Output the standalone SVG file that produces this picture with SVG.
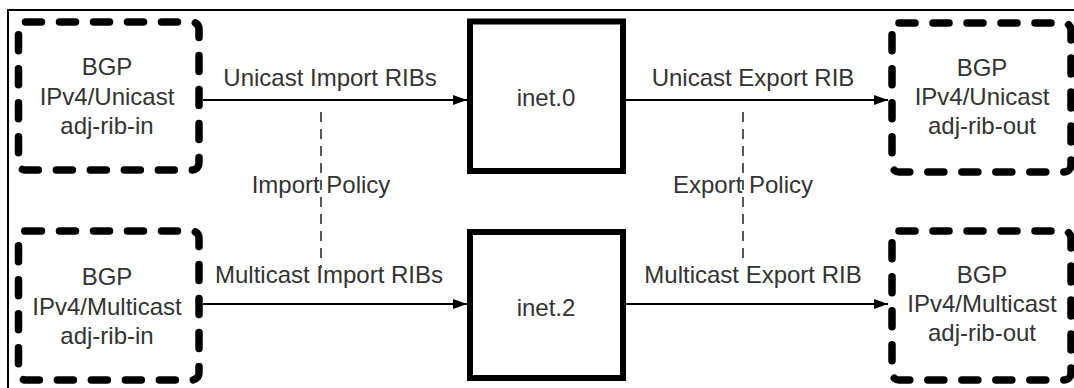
<svg xmlns="http://www.w3.org/2000/svg" width="1074" height="388" viewBox="0 0 1074 388">
  <style>
    .frame { fill: none; stroke: #000; stroke-width: 2; }
    .rib { fill: #fff; stroke: #000; stroke-width: 7.5; stroke-dasharray: 16 18; stroke-linecap: round; stroke-linejoin: round; }
    .table { fill: #fff; stroke: #000; stroke-width: 6; }
    .label { font-family: "Liberation Sans", Arial, sans-serif; font-size: 24px; fill: #333; text-anchor: middle; }
    .conn { fill: none; stroke: #000; stroke-width: 2; }
    .policy { fill: none; stroke: #222; stroke-width: 1.5; stroke-dasharray: 10 7; }
  </style>
  <defs>
    <marker id="arrow" viewBox="0 0 14 10" refX="14" refY="5" markerWidth="14" markerHeight="10" markerUnits="userSpaceOnUse" orient="auto">
      <path d="M0,0 L14,5 L0,10 Z" fill="#000"/>
    </marker>
  </defs>
  <rect width="1074" height="388" fill="#fff"/>
  <path class="frame" d="M8,388 L8,10 L1074,10"/>

  <g id="connectors">
    <line class="conn" x1="203" y1="100" x2="467" y2="100" marker-end="url(#arrow)"/>
    <line class="conn" x1="203" y1="304" x2="467" y2="304" marker-end="url(#arrow)"/>
    <line class="conn" x1="626" y1="100" x2="888" y2="100" marker-end="url(#arrow)"/>
    <line class="conn" x1="626" y1="304" x2="888" y2="304" marker-end="url(#arrow)"/>
    <line class="policy" x1="321" y1="112" x2="321" y2="268"/>
    <line class="policy" x1="743" y1="112" x2="743" y2="264"/>
    <text class="label" x="330" y="86">Unicast Import RIBs</text>
    <text class="label" x="329" y="283">Multicast Import RIBs</text>
    <text class="label" x="753" y="86">Unicast Export RIB</text>
    <text class="label" x="753" y="283">Multicast Export RIB</text>
    <text class="label" x="321" y="193">Import Policy</text>
    <text class="label" x="743" y="193">Export Policy</text>
  </g>

  <g id="unicast-in">
    <rect class="rib" x="18.5" y="22" width="180.5" height="148" rx="7"/>
    <text class="label" x="107" y="75">BGP</text>
    <text class="label" x="107" y="105">IPv4/Unicast</text>
    <text class="label" x="107" y="134">adj-rib-in</text>
  </g>

  <g id="multicast-in">
    <rect class="rib" x="18.5" y="231" width="180.5" height="149" rx="7"/>
    <text class="label" x="107" y="285">BGP</text>
    <text class="label" x="107" y="315">IPv4/Multicast</text>
    <text class="label" x="107" y="344">adj-rib-in</text>
  </g>

  <g id="inet0">
    <rect class="table" x="470" y="21.5" width="153" height="149.5"/>
    <text class="label" x="546" y="106">inet.0</text>
  </g>

  <g id="inet2">
    <rect class="table" x="470" y="232" width="153" height="146"/>
    <text class="label" x="546" y="316">inet.2</text>
  </g>

  <g id="unicast-out">
    <rect class="rib" x="892" y="23" width="179" height="149" rx="7"/>
    <text class="label" x="982" y="76">BGP</text>
    <text class="label" x="982" y="105">IPv4/Unicast</text>
    <text class="label" x="982" y="134">adj-rib-out</text>
  </g>

  <g id="multicast-out">
    <rect class="rib" x="892" y="231" width="179" height="149" rx="7"/>
    <text class="label" x="982" y="283">BGP</text>
    <text class="label" x="982" y="312">IPv4/Multicast</text>
    <text class="label" x="982" y="341">adj-rib-out</text>
  </g>
</svg>
